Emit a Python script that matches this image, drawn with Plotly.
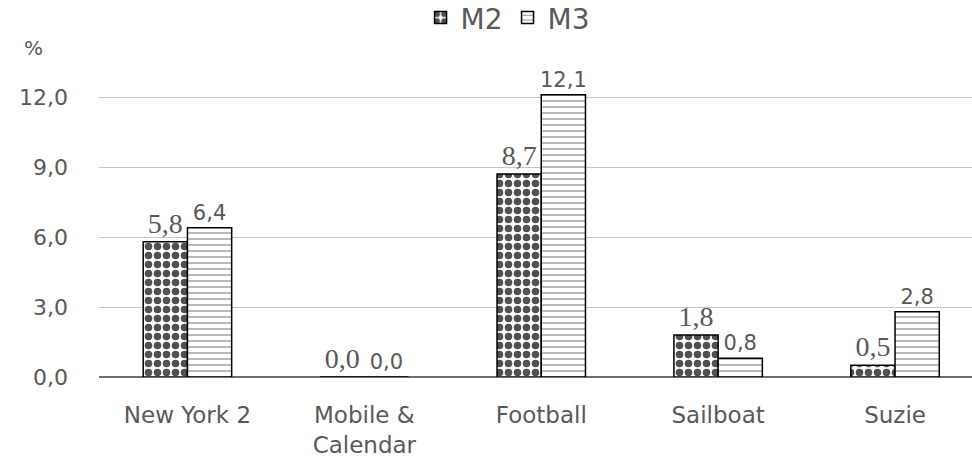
import plotly.graph_objects as go

categories = ["New York 2", "Mobile &<br>Calendar", "Football", "Sailboat", "Suzie"]
m2_values = [5.8, 0.0, 8.7, 1.8, 0.5]
m3_values = [6.4, 0.0, 12.1, 0.8, 2.8]
y_ticks = [0, 3, 6, 9, 12]

GRAY = "#595959"
fig = go.Figure()
fig.add_trace(go.Bar(
    name="M2", x=categories, y=m2_values,
    marker=dict(color="white", line=dict(color="black", width=1.5),
                pattern=dict(shape=".", fgcolor="#505050", fgopacity=1, bgcolor="white",
                             size=9, solidity=0.55)),
    text=[f"{v:.1f}".replace(".", ",") for v in m2_values], textposition="outside",
    constraintext="none",
    textfont=dict(family="Liberation Serif", size=28, color=GRAY), cliponaxis=False,
))
fig.add_trace(go.Bar(
    name="M3", x=categories, y=m3_values,
    marker=dict(color="white", line=dict(color="black", width=1.5),
                pattern=dict(shape="-", fgcolor="#8a8a8a", fgopacity=1, bgcolor="white",
                             size=6, solidity=0.2)),
    text=[f"{v:.1f}".replace(".", ",") for v in m3_values], textposition="outside",
    constraintext="none",
    textfont=dict(family="DejaVu Sans", size=21, color=GRAY), cliponaxis=False,
))

fig.update_layout(
    width=972, height=459,
    margin=dict(l=99, r=0, t=62, b=82, autoexpand=False),
    paper_bgcolor="white", plot_bgcolor="white",
    barmode="group", bargap=0.5, bargroupgap=0,
    separators=",.",
    font=dict(family="DejaVu Sans", color=GRAY, size=22),
    legend=dict(orientation="h", x=0.468, xanchor="center", y=1.14, yanchor="middle",
                font=dict(size=28, color=GRAY), itemwidth=30, traceorder="normal"),
    xaxis=dict(range=[-0.5, 4.435], showgrid=False, showline=False, ticks="",
               ticklabelstandoff=22, tickfont=dict(size=23, color=GRAY)),
    yaxis=dict(range=[0, 13.5], tickvals=y_ticks, tickformat=".1f", showgrid=True,
               gridcolor="#c4c4c4", gridwidth=1.2, zeroline=True, zerolinecolor="#6e6e6e",
               zerolinewidth=2, ticklabelstandoff=30, tickfont=dict(size=22, color=GRAY)),
    annotations=[dict(text="%", xref="paper", yref="paper", x=-0.075, y=1.045,
                      xanchor="center", yanchor="middle", showarrow=False,
                      font=dict(size=20, color=GRAY))],
)

fig.write_html("out.html")
